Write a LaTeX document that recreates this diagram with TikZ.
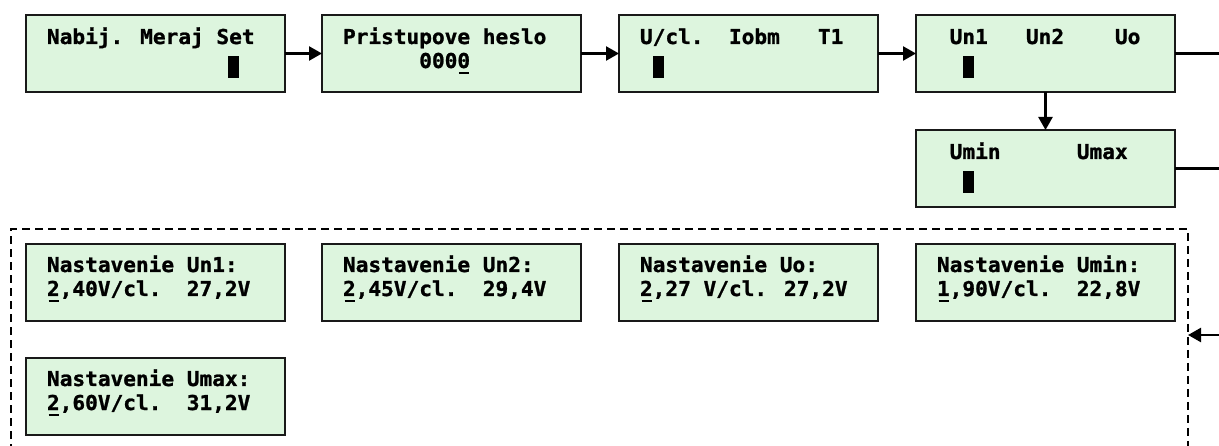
\documentclass[tikz,border=0pt]{standalone}
\usepackage{fontspec}
\newfontfamily\lcdfont{DejaVu Sans Mono}[FakeStretch=1.03,FakeBold=1.2]
\usetikzlibrary{arrows.meta}
\definecolor{lcdgreen}{RGB}{221,245,222}
\definecolor{boxline}{RGB}{25,25,25}
\newcommand\ulchar[1]{\makebox[0pt][l]{\hspace{1.5pt}\rule[-6pt]{10pt}{2.2pt}}#1}
\tikzset{
  lcdbox/.style={draw=boxline, line width=2.6pt, fill=lcdgreen, minimum width=259pt,
    minimum height=77pt, inner sep=0pt, outer sep=0pt, anchor=north west},
  txt/.style={anchor=base west, inner sep=0pt, outer sep=0pt, text=black,
    font=\lcdfont\bfseries\fontsize{20.5}{24}\selectfont},
  cursor/.style={fill=black, minimum width=11pt, minimum height=22pt, inner sep=0pt,
    outer sep=0pt, anchor=north west},
  conn/.style={line width=2.4pt, draw=black},
  arr/.style={conn, -{Triangle[length=13pt,width=14pt]}},
  frameline/.style={line width=2.4pt, draw=black, dash pattern=on 8pt off 5pt}
}
\begin{document}
\begin{tikzpicture}[x=1pt,y=-1pt]
\useasboundingbox (0,0) rectangle (1219,446);
% top row
\node[lcdbox] (b1) at (26,15) {};
\node[lcdbox] (b2) at (322,15) {};
\node[lcdbox] (b3) at (619,15) {};
\node[lcdbox] (b4) at (916,15) {};
\node[lcdbox] (b5) at (916,130) {};
\node[txt] (t1) at (47,44) {Nabij. Meraj Set};
\node[cursor] (c1) at (228,56) {};
\node[txt] (t2a) at (343,44) {Pristupove heslo};
\node[txt] (t2b) at (343,68) {\ \ \ \ \ \ 000\ulchar{0}};
\node[txt] (t3) at (640,44) {U/cl.\ \ Iobm\ \ \ T1};
\node[cursor] (c3) at (653,56) {};
\node[txt] (t4) at (937,44) {\ Un1\ \ \ Un2\ \ \ \ Uo};
\node[cursor] (c4) at (963,56) {};
\node[txt] (t5) at (937,159) {\ Umin\ \ \ \ \ \ Umax};
\node[cursor] (c5) at (963,171) {};
\draw[arr] (b1.east) -- (b2.west);
\draw[arr] (b2.east) -- (b3.west);
\draw[arr] (b3.east) -- (b4.west);
\draw[arr] (b4.south) -- (b5.north);
\coordinate (r1) at (1219,53.5);
\coordinate (r2) at (1219,168.5);
\draw[conn] (b4.east) -- (r1);
\draw[conn] (b5.east) -- (r2);
% dashed frame
\coordinate (f1) at (11,452);
\coordinate (f2) at (11,229);
\coordinate (f3) at (1188,229);
\coordinate (f4) at (1188,452);
\draw[frameline] (f1) -- (f2) -- (f3) -- (f4);
\coordinate (r3) at (1219,335);
\coordinate (d3) at (1188,335);
\draw[arr] (r3) -- (d3);
% settings boxes
\node[lcdbox] (sa) at (26,244) {};
\node[lcdbox] (sb) at (322,244) {};
\node[lcdbox] (sc) at (619,244) {};
\node[lcdbox] (sd) at (916,244) {};
\node[lcdbox] (se) at (26,358) {};
\node[txt] (sa1) at (47,272) {Nastavenie Un1:};
\node[txt] (sa2) at (47,296) {\ulchar{2},40V/cl.\ \ 27,2V};
\node[txt] (sb1) at (343,272) {Nastavenie Un2:};
\node[txt] (sb2) at (343,296) {\ulchar{2},45V/cl.\ \ 29,4V};
\node[txt] (sc1) at (640,272) {Nastavenie Uo:};
\node[txt] (sc2) at (640,296) {\ulchar{2},27 V/cl. 27,2V};
\node[txt] (sd1) at (937,272) {Nastavenie Umin:};
\node[txt] (sd2) at (937,296) {\ulchar{1},90V/cl.\ \ 22,8V};
\node[txt] (se1) at (47,386) {Nastavenie Umax:};
\node[txt] (se2) at (47,410) {\ulchar{2},60V/cl.\ \ 31,2V};
\end{tikzpicture}
\end{document}
